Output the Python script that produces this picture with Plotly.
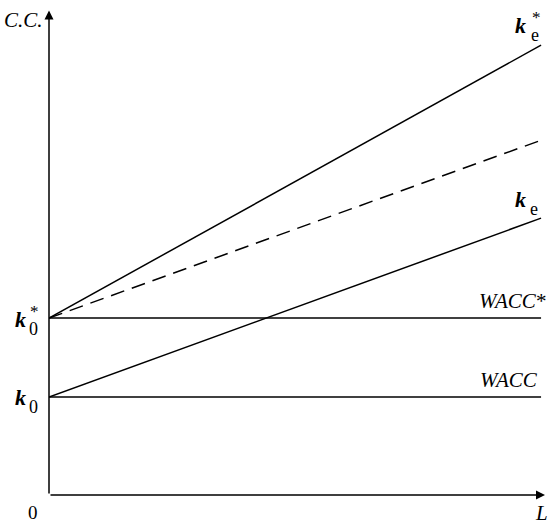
import plotly.graph_objects as go

# Data (arbitrary units)
L = [0, 100]
ke_star = [3.61, 9.18]
ke_dashed = [3.61, 7.24]
ke = [2.0, 5.65]
wacc_star = [3.61, 3.61]
wacc = [2.0, 2.0]

W, H = 550, 525
ML, MR, MT, MB = 49, 5, 8, 30
PW, PH = W - ML - MR, H - MT - MB
XMAX = 100.8
YMAX = PH / 49.0

FONT = "Liberation Serif, Times New Roman, serif"

def pp(px, py):
    return (px - ML) / PW, (H - MB - py) / PH

fig = go.Figure()
line = dict(color="black", width=1.5)
fig.add_trace(go.Scatter(x=L, y=ke_star, mode="lines", line=line))
fig.add_trace(go.Scatter(x=L, y=ke_dashed, mode="lines", line=dict(color="black", width=1.5, dash="14px,8px")))
fig.add_trace(go.Scatter(x=L, y=ke, mode="lines", line=line))
fig.add_trace(go.Scatter(x=L, y=wacc_star, mode="lines", line=line))
fig.add_trace(go.Scatter(x=L, y=wacc, mode="lines", line=line))

ann = []
# axes arrows
ann.append(dict(x=0, y=YMAX * 0.995, ax=0, ay=0, xref="x", yref="y", axref="x", ayref="y",
                showarrow=True, arrowhead=2, arrowsize=1.2, arrowwidth=1.5, arrowcolor="black", text=""))
ann.append(dict(x=XMAX, y=0, ax=0, ay=0, xref="x", yref="y", axref="x", ayref="y",
                showarrow=True, arrowhead=2, arrowsize=1.2, arrowwidth=1.5, arrowcolor="black", text=""))

def lab(text, px, py, size=20):
    x, y = pp(px, py)
    ann.append(dict(x=x, y=y, xref="paper", yref="paper", text=text, showarrow=False,
                    font=dict(family=FONT, size=size, color="black"),
                    xanchor="center", yanchor="middle"))

lab("<i>C.C.</i>", 23, 20, 21)
lab("0", 33, 512, 19)
lab("<i>L</i>", 541, 513, 21)
lab("<i><b>k</b></i>", 520, 25, 22)
lab("*", 536, 17, 17)
lab("e", 535, 35, 18)
lab("<i><b>k</b></i>", 520, 199, 22)
lab("e", 534, 209, 18)
lab("<i>WACC</i>*", 512, 301, 21)
lab("<i>WACC</i>", 509, 380, 21)
lab("<i><b>k</b></i>", 20, 319, 22)
lab("0", 33, 329, 18)
lab("*", 34, 312, 17)
lab("<i><b>k</b></i>", 20, 397, 22)
lab("0", 33, 407, 18)

fig.update_layout(
    width=W, height=H,
    margin=dict(l=ML, r=MR, t=MT, b=MB),
    plot_bgcolor="white", paper_bgcolor="white",
    showlegend=False,
    xaxis=dict(range=[0, XMAX], visible=False, fixedrange=True),
    yaxis=dict(range=[0, YMAX], visible=False, fixedrange=True),
    annotations=ann,
)

fig.write_html("out.html", config={"displayModeBar": False},
               post_script="document.body.style.margin='0';document.body.style.overflow='hidden';")
